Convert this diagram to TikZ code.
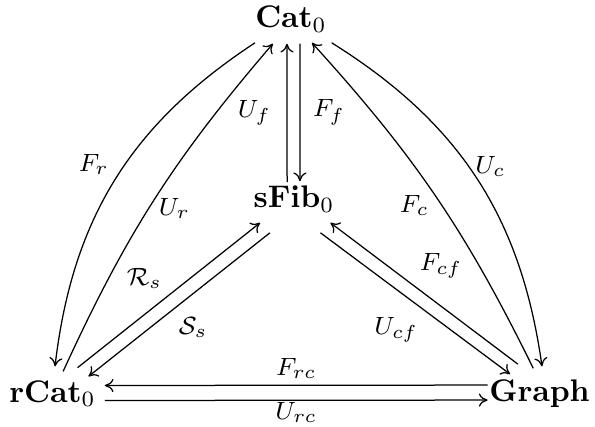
\documentclass[tikz,border=0pt]{standalone}
\usepackage{amsmath,amssymb}
\usetikzlibrary{arrows.meta,calc}
\tikzset{
  obj/.style={
    anchor=base,
    font=\normalsize
  },
  arr/.style={-{To[length=2.8pt,width=4.2pt]},thin},
  lbl/.style={font=\footnotesize,inner sep=2pt}
}

\begin{document}
\begin{tikzpicture}[x=0.32pt,y=-0.32pt]
  \useasboundingbox (0,0) rectangle (595,427);
  \node[obj] (cat) at (291,28) {$\mathbf{Cat}_0$};
  \node[obj] (sfib) at (294,208) {$\mathbf{sFib}_0$};
  \node[obj] (rcat) at (52.5,402) {$\mathbf{rCat}_0$};
  \node[obj] (graph) at (539.5,401) {$\mathbf{Graph}$};
  % Cat and sFib
  \draw[arr] ([shift={(-2.2pt,-2.2pt)}]sfib.north) -- node[lbl,left=3pt]{$U_f$} ([xshift=-1.3pt]cat.south);
  \draw[arr] ([xshift=2.9pt]cat.south) -- node[lbl,right=2pt]{$F_f$} ([shift={(1.9pt,-1.9pt)}]sfib.north);
  % outer curves
  \draw[arr] ([shift={(-11.5pt,0.3pt)}]cat.south) to[bend right=25] node[lbl,left=3pt,pos=0.45]{$F_r$} ([shift={(0.8pt,1pt)}]rcat.north);
  \draw[arr] ([shift={(3.4pt,-0.6pt)}]rcat.north) to[bend left=8] node[lbl,right=1pt,pos=0.47]{$U_r$} ([xshift=-5.8pt]cat.south);
  \draw[arr] ([xshift=-2pt]graph.north) to[bend right=8] node[lbl,left=2pt,pos=0.47]{$F_c$} ([shift={(6.7pt,0.3pt)}]cat.south);
  \draw[arr] ([shift={(13pt,0.3pt)}]cat.south) to[bend left=25] node[lbl,right=0pt,pos=0.46]{$U_c$} ([shift={(0.8pt,0.6pt)}]graph.north);
  % sFib and the lower corners
  \draw[arr] ([shift={(-9.3pt,0.6pt)}]rcat.north east) -- node[lbl,above left=0pt,pos=0.5]{$\mathcal{R}_s$} ([shift={(5.6pt,0.3pt)}]sfib.south west);
  \draw[arr] ([shift={(-7.7pt,-2.9pt)}]sfib.south) -- node[lbl,below right=0pt,pos=0.54]{$\mathcal{S}_s$} ([shift={(-5.8pt,-2.2pt)}]rcat.north east);
  \draw[arr] ([shift={(-6.9pt,1.3pt)}]graph.north) -- node[lbl,above right=0pt,pos=0.56]{$F_{cf}$} ([shift={(-4.8pt,0.3pt)}]sfib.south east);
  \draw[arr] ([shift={(-8pt,-2.9pt)}]sfib.south east) -- node[lbl,below left=0pt,pos=0.55]{$U_{cf}$} ([shift={(-9.4pt,-1.9pt)}]graph.north);
  % rCat and Graph
  \draw[arr] ([shift={(3pt,2.6pt)}]graph.west) -- node[lbl,above=0pt]{$F_{rc}$} ([shift={(-0.6pt,2.6pt)}]rcat.east);
  \draw[arr] ([shift={(-0.6pt,-2.2pt)}]rcat.east) -- node[lbl,below=-1.5pt]{$U_{rc}$} ([shift={(3pt,-2.2pt)}]graph.west);
\end{tikzpicture}
\end{document}
